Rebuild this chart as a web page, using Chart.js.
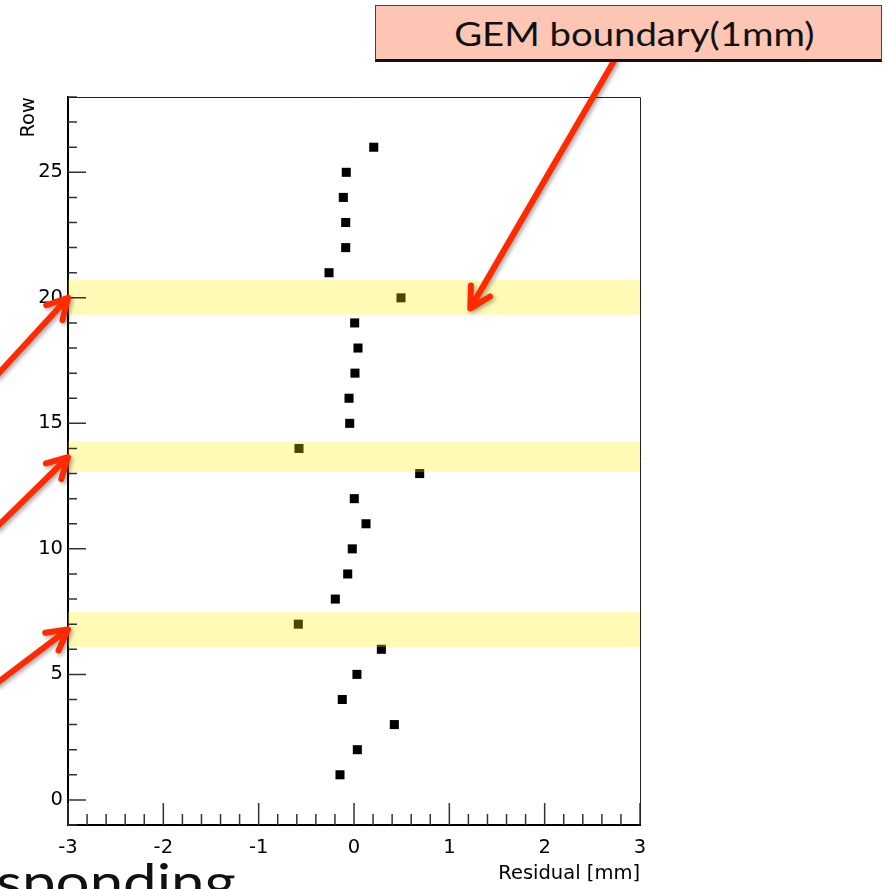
<!DOCTYPE html>
<html>
<head>
<meta charset="utf-8">
<script src="https://cdn.jsdelivr.net/npm/chart.js@4/dist/chart.umd.min.js"></script>
<style>
  html, body { margin: 0; padding: 0; background: #fff; overflow: hidden; }
  #wrap { position: relative; width: 887px; height: 889px; overflow: hidden; }
  #gemBox {
    position: absolute; left: 375px; top: 5px; width: 507px; height: 57px;
    box-sizing: border-box; background: #fdc6b4;
    border: 1px solid #444; border-bottom: 3px solid #111;
    font-family: Lato, sans-serif; font-size: 33px; color: #111;
    display: flex; align-items: center; justify-content: center; padding-left: 12px;
  }
  #gemBox span { display: inline-block; transform: scaleX(1.16); }
  #caption {
    position: absolute; left: -4px; top: 856px; font-family: Lato, sans-serif;
    font-size: 50px; line-height: 50px; white-space: nowrap; color: #111;
    transform: scaleX(1.2); transform-origin: left top;
  }
</style>
</head>
<body>
<div id="wrap">
  <canvas id="chart-residual" width="887" height="889"></canvas>
  <div id="gemBox"><span>GEM boundary(1mm)</span></div>
  <div id="caption">sponding</div>
</div>
<script>
  // residual per row
  const rows = [1, 2, 3, 4, 5, 6, 7, 8, 9, 10, 11, 12, 13, 14, 15, 16, 17, 18, 19, 20, 21, 22, 23, 24, 25, 26];
  const residuals = [-0.147, 0.035, 0.423, -0.123, 0.031, 0.287, -0.584, -0.196, -0.066, -0.018,
                     0.126, 0.003, 0.689, -0.577, -0.045, -0.052, 0.010, 0.042, 0.007, 0.493,
                     -0.262, -0.087, -0.087, -0.112, -0.081, 0.207];
  const xTicks = [-3, -2, -1, 0, 1, 2, 3];
  const yTicks = [0, 5, 10, 15, 20, 25];

  // GEM boundary bands (row units)
  const bandLow = [19.33, 13.06, 6.09];
  const bandHigh = [20.70, 14.28, 7.48];

  // red arrows, in data units
  const arrowTailX = [-3.75, -3.75, -3.75, 2.73];
  const arrowTailY = [16.9, 10.86, 4.64, 29.45];
  const arrowTipX = [-3, -3, -3, 1.22];
  const arrowTipY = [20, 13.65, 6.79, 19.58];

  const axisFont = { family: "DejaVu Sans", size: 19.5 };

  function drawArrow(ctx, x0, y0, x1, y1) {
    const ang = Math.atan2(y0 - y1, x0 - x1);
    const wing = 23, spread = 0.5;
    ctx.beginPath();
    ctx.moveTo(x0, y0);
    ctx.lineTo(x1, y1);
    ctx.moveTo(x1 + wing * Math.cos(ang + spread), y1 + wing * Math.sin(ang + spread));
    ctx.lineTo(x1, y1);
    ctx.lineTo(x1 + wing * Math.cos(ang - spread), y1 + wing * Math.sin(ang - spread));
    ctx.stroke();
  }

  const rootFrame = {
    id: "rootFrame",
    afterDatasetsDraw(chart) {
      const { ctx, chartArea: a, scales: { y } } = chart;
      ctx.save();
      ctx.fillStyle = "rgba(255, 240, 0, 0.29)";
      bandLow.forEach((lo, i) => {
        const top = y.getPixelForValue(bandHigh[i]);
        const bot = y.getPixelForValue(lo);
        ctx.fillRect(a.left, top, a.right - a.left, bot - top);
      });
      ctx.restore();
    },
    afterDraw(chart) {
      const { ctx, chartArea: a, scales: { x, y } } = chart;
      ctx.save();
      // ticks inside the frame, ROOT style
      ctx.strokeStyle = "#333";
      ctx.lineWidth = 1.5;
      ctx.beginPath();
      for (let k = -15; k <= 15; k++) {
        const px = x.getPixelForValue(k / 5);
        const len = k % 5 === 0 ? 22 : 11;
        ctx.moveTo(px, a.bottom);
        ctx.lineTo(px, a.bottom - len);
      }
      for (let v = -1; v <= 28; v++) {
        const py = y.getPixelForValue(v);
        const len = v % 5 === 0 ? 18 : 9;
        ctx.moveTo(a.left, py);
        ctx.lineTo(a.left + len, py);
      }
      ctx.stroke();
      // thin top / right frame
      ctx.strokeStyle = "#222";
      ctx.lineWidth = 1;
      ctx.beginPath();
      ctx.moveTo(a.left, a.top + 0.5);
      ctx.lineTo(a.right + 0.5, a.top + 0.5);
      ctx.lineTo(a.right + 0.5, a.bottom);
      ctx.stroke();

      // arrows
      ctx.strokeStyle = "#ff2a00";
      ctx.lineWidth = 6;
      ctx.lineCap = "round";
      ctx.lineJoin = "round";
      ctx.shadowColor = "rgba(0, 0, 0, 0.35)";
      ctx.shadowBlur = 4;
      ctx.shadowOffsetX = 2;
      ctx.shadowOffsetY = 2;
      arrowTipX.forEach((tx, i) => {
        drawArrow(ctx,
          x.getPixelForValue(arrowTailX[i]), y.getPixelForValue(arrowTailY[i]),
          x.getPixelForValue(tx), y.getPixelForValue(arrowTipY[i]));
      });
      ctx.restore();
    }
  };

  new Chart(document.getElementById("chart-residual"), {
    type: "scatter",
    data: {
      datasets: [{
        data: rows.map((r, i) => ({ x: residuals[i], y: r })),
        pointStyle: "rect",
        pointRadius: 6.4,
        pointHoverRadius: 6.4,
        backgroundColor: "#000",
        borderWidth: 0,
      }],
    },
    options: {
      responsive: false,
      animation: false,
      events: [],
      layout: { padding: { left: 0, right: 247, top: 97, bottom: 0 } },
      plugins: { legend: { display: false }, tooltip: { enabled: false } },
      scales: {
        x: {
          type: "linear",
          min: -3,
          max: 3,
          afterBuildTicks: (s) => { s.ticks = xTicks.map((v) => ({ value: v })); },
          afterFit: (s) => { s.height = 64; },
          grid: { display: false, drawTicks: false },
          border: { display: true, color: "#000", width: 2 },
          ticks: { color: "#000", font: axisFont, padding: 11, maxRotation: 0, autoSkip: false },
          title: { display: true, text: "Residual [mm]", align: "end", color: "#000", font: axisFont, padding: { top: 0, bottom: 3 } },
        },
        y: {
          type: "linear",
          min: -1,
          max: 28,
          afterBuildTicks: (s) => { s.ticks = yTicks.map((v) => ({ value: v })); },
          afterFit: (s) => { s.width = 68; },
          grid: { display: false, drawTicks: false },
          border: { display: true, color: "#000", width: 2 },
          ticks: { color: "#000", font: axisFont, padding: 5, autoSkip: false },
          title: { display: true, text: "Row", align: "end", color: "#000", font: axisFont, padding: { top: 17, bottom: 0 } },
        },
      },
    },
    plugins: [rootFrame],
  });
</script>
</body>
</html>
